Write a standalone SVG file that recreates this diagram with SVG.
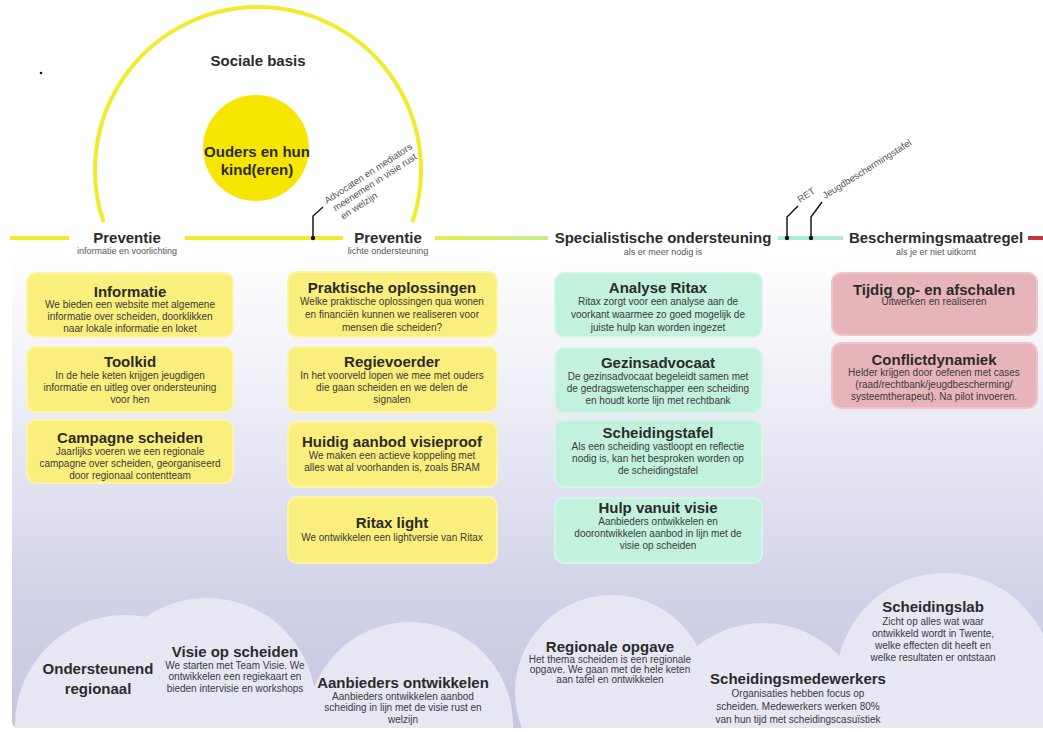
<svg xmlns="http://www.w3.org/2000/svg" width="1043" height="732" viewBox="0 0 1043 732">
<defs>
<linearGradient id="bg" x1="0" y1="250" x2="0" y2="728" gradientUnits="userSpaceOnUse">
<stop offset="0" stop-color="#ffffff"/>
<stop offset="0.25" stop-color="#f1f1f8"/>
<stop offset="0.55" stop-color="#dedeef"/>
<stop offset="0.75" stop-color="#d0d0e6"/>
<stop offset="1" stop-color="#c6c6df"/>
</linearGradient>
<linearGradient id="lg" x1="435" y1="0" x2="548" y2="0" gradientUnits="userSpaceOnUse">
<stop offset="0" stop-color="#e4ee4e"/>
<stop offset="1" stop-color="#c4ee86"/>
</linearGradient>
<clipPath id="panel"><rect x="12" y="250" width="1040" height="478" rx="6"/></clipPath>
</defs>
<style>
text{font-family:"Liberation Sans",Arial,sans-serif;text-anchor:middle}
.t{font-size:15px;font-weight:bold;fill:#2b2b2b}
.b{font-size:10px;fill:#3a3a3a}
.s{font-size:9px;fill:#555}
.c{font-size:9.5px;fill:#555;text-anchor:start}
.y{fill:#faef7c;stroke:#fcf4a8;stroke-width:2}
.g{fill:#c2f1de;stroke:#d2f6e8;stroke-width:2}
.p{fill:#e7b5b9;stroke:#eec6c9;stroke-width:2}
.cl{fill:#e7e7f3}
.ln{stroke-width:4;fill:none}
.ld{stroke:#1a1a1a;stroke-width:1.5;fill:none}
</style>
<rect width="1043" height="732" fill="#ffffff"/>
<rect x="12" y="250" width="1040" height="478" rx="6" fill="url(#bg)"/>
<g id="clouds" clip-path="url(#panel)">
<circle class="cl" cx="125" cy="725" r="110"/>
<circle class="cl" cx="207" cy="707" r="109"/>
<circle class="cl" cx="410" cy="725" r="103"/>
<circle class="cl" cx="612" cy="692" r="97"/>
<circle class="cl" cx="763" cy="728" r="105"/>
<circle class="cl" cx="945" cy="682" r="109"/>
</g>
<circle cx="41" cy="73" r="1.3" fill="#111"/>
<g id="connectors">
<path class="ln" d="M103.5 222 A163 163 0 1 1 412.5 222" stroke="#f2ea2c" stroke-width="3"/>
<line class="ln" x1="10" y1="238" x2="69" y2="238" stroke="#f2ea2c"/>
<line class="ln" x1="185" y1="238" x2="343" y2="238" stroke="#f2ea2c"/>
<line class="ln" x1="435" y1="238" x2="548" y2="238" stroke="url(#lg)"/>
<line class="ln" x1="778" y1="238" x2="843" y2="238" stroke="#a8ecd6"/>
<line class="ln" x1="1028" y1="238" x2="1043" y2="238" stroke="#c8323c"/>
<polyline class="ld" points="313,238 313,216 323,207"/>
<circle cx="313" cy="238" r="2.2" fill="#111"/>
<polyline class="ld" points="787,238 787,217 798,206"/>
<circle cx="787" cy="238" r="2.2" fill="#111"/>
<polyline class="ld" points="811,238 811,217 822,202"/>
<circle cx="811" cy="238" r="2.2" fill="#111"/>
</g>
<g id="callout-advocaten" transform="translate(327,204) rotate(-33)">
<text class="c" x="0" y="0">Advocaten en mediators</text>
<text class="c" x="3" y="11">meenemen in visie rust</text>
<text class="c" x="5" y="22">en welzijn</text>
</g>
<g id="callout-ret" transform="translate(800,203) rotate(-33)"><text class="c" x="0" y="0">RET</text></g>
<g id="callout-jbt" transform="translate(825,199) rotate(-32)"><text class="c" x="0" y="0">Jeugdbeschermingstafel</text></g>
<g id="sociale-basis"><text class="t" x="258" y="66">Sociale basis</text></g>
<g id="ouders">
<circle cx="256" cy="148" r="53" fill="#f7e600"/>
<text class="t" x="257" y="157">Ouders en hun</text>
<text class="t" x="257" y="175">kind(eren)</text>
</g>
<g id="h-preventie1"><text class="t" x="127" y="243">Preventie</text><text class="s" x="127" y="254">informatie en voorlichting</text></g>
<g id="h-preventie2"><text class="t" x="388" y="243">Preventie</text><text class="s" x="388" y="254">lichte ondersteuning</text></g>
<g id="h-specialistisch"><text class="t" x="663" y="243">Specialistische ondersteuning</text><text class="s" x="663" y="255">als er meer nodig is</text></g>
<g id="h-bescherming"><text class="t" x="936" y="243">Beschermingsmaatregel</text><text class="s" x="936" y="255">als je er niet uitkomt</text></g>

<g id="informatie"><rect class="y" x="27" y="273" width="206" height="64" rx="9"/>
<text class="t" x="130" y="297">Informatie</text>
<text class="b" x="130" y="308">We bieden een website met algemene</text>
<text class="b" x="130" y="320">informatie over scheiden, doorklikken</text>
<text class="b" x="130" y="332">naar lokale informatie en loket</text></g>
<g id="toolkid"><rect class="y" x="27" y="347" width="206" height="65" rx="9"/>
<text class="t" x="130" y="367">Toolkid</text>
<text class="b" x="130" y="379">In de hele keten krijgen jeugdigen</text>
<text class="b" x="130" y="391">informatie en uitleg over ondersteuning</text>
<text class="b" x="130" y="403">voor hen</text></g>
<g id="campagne"><rect class="y" x="27" y="420" width="206" height="63" rx="9"/>
<text class="t" x="130" y="443">Campagne scheiden</text>
<text class="b" x="130" y="455">Jaarlijks voeren we een regionale</text>
<text class="b" x="130" y="467">campagne over scheiden, georganiseerd</text>
<text class="b" x="130" y="479">door regionaal contentteam</text></g>

<g id="praktisch"><rect class="y" x="288" y="272" width="209" height="65" rx="9"/>
<text class="t" x="392" y="293">Praktische oplossingen</text>
<text class="b" x="392" y="305">Welke praktische oplossingen qua wonen</text>
<text class="b" x="392" y="318">en financiën kunnen we realiseren voor</text>
<text class="b" x="392" y="331">mensen die scheiden?</text></g>
<g id="regievoerder"><rect class="y" x="288" y="347" width="209" height="65" rx="9"/>
<text class="t" x="392" y="367">Regievoerder</text>
<text class="b" x="392" y="379">In het voorveld lopen we mee met ouders</text>
<text class="b" x="392" y="391">die gaan scheiden en we delen de</text>
<text class="b" x="392" y="403">signalen</text></g>
<g id="huidig"><rect class="y" x="288" y="422" width="209" height="65" rx="9"/>
<text class="t" x="392" y="447">Huidig aanbod visieproof</text>
<text class="b" x="392" y="459">We maken een actieve koppeling met</text>
<text class="b" x="392" y="471">alles wat al voorhanden is, zoals BRAM</text></g>
<g id="ritax-light"><rect class="y" x="288" y="497" width="209" height="66" rx="9"/>
<text class="t" x="392" y="528">Ritax light</text>
<text class="b" x="392" y="541">We ontwikkelen een lightversie van Ritax</text></g>

<g id="analyse-ritax"><rect class="g" x="555" y="273" width="207" height="64" rx="9"/>
<text class="t" x="658" y="293">Analyse Ritax</text>
<text class="b" x="658" y="305">Ritax zorgt voor een analyse aan de</text>
<text class="b" x="658" y="318">voorkant waarmee zo goed mogelijk de</text>
<text class="b" x="658" y="331">juiste hulp kan worden ingezet</text></g>
<g id="gezinsadvocaat"><rect class="g" x="555" y="348" width="207" height="65" rx="9"/>
<text class="t" x="658" y="368">Gezinsadvocaat</text>
<text class="b" x="658" y="380">De gezinsadvocaat begeleidt samen met</text>
<text class="b" x="658" y="392">de gedragswetenschapper een scheiding</text>
<text class="b" x="658" y="404">en houdt korte lijn met rechtbank</text></g>
<g id="scheidingstafel"><rect class="g" x="555" y="420" width="207" height="67" rx="9"/>
<text class="t" x="658" y="438">Scheidingstafel</text>
<text class="b" x="658" y="450">Als een scheiding vastloopt en reflectie</text>
<text class="b" x="658" y="462">nodig is, kan het besproken worden op</text>
<text class="b" x="658" y="474">de scheidingstafel</text></g>
<g id="hulp-visie"><rect class="g" x="555" y="498" width="207" height="65" rx="9"/>
<text class="t" x="658" y="513">Hulp vanuit visie</text>
<text class="b" x="658" y="525">Aanbieders ontwikkelen en</text>
<text class="b" x="658" y="537">doorontwikkelen aanbod in lijn met  de</text>
<text class="b" x="658" y="549">visie op scheiden</text></g>

<g id="tijdig"><rect class="p" x="832" y="273" width="205" height="62" rx="9"/>
<text class="t" x="934" y="295">Tijdig op- en afschalen</text>
<text class="b" x="934" y="305">Uitwerken en realiseren</text></g>
<g id="conflictdynamiek"><rect class="p" x="832" y="343" width="205" height="65" rx="9"/>
<text class="t" x="934" y="365">Conflictdynamiek</text>
<text class="b" x="934" y="376">Helder krijgen door oefenen met cases</text>
<text class="b" x="934" y="388">(raad/rechtbank/jeugdbescherming/</text>
<text class="b" x="934" y="400">systeemtherapeut). Na pilot invoeren.</text></g>

<g id="ondersteunend"><text class="t" x="98" y="674">Ondersteunend</text><text class="t" x="98" y="694">regionaal</text></g>
<g id="visie-scheiden"><text class="t" x="235" y="657">Visie op scheiden</text>
<text class="b" x="235" y="669">We starten met Team Visie. We</text>
<text class="b" x="235" y="680">ontwikkelen een regiekaart en</text>
<text class="b" x="235" y="692">bieden intervisie en workshops</text></g>
<g id="aanbieders"><text class="t" x="403" y="688">Aanbieders ontwikkelen</text>
<text class="b" x="403" y="700">Aanbieders ontwikkelen aanbod</text>
<text class="b" x="403" y="711">scheiding in lijn met de visie rust en</text>
<text class="b" x="403" y="723">welzijn</text></g>
<g id="regionale-opgave"><text class="t" x="610" y="652">Regionale opgave</text>
<text class="b" x="610" y="663">Het thema scheiden is een regionale</text>
<text class="b" x="610" y="673">opgave. We gaan met de hele keten</text>
<text class="b" x="610" y="683">aan tafel en ontwikkelen</text></g>
<g id="scheidingsmedewerkers"><text class="t" x="798" y="684">Scheidingsmedewerkers</text>
<text class="b" x="798" y="697">Organisaties hebben focus op</text>
<text class="b" x="798" y="710">scheiden. Medewerkers werken 80%</text>
<text class="b" x="798" y="723">van hun tijd met scheidingscasuïstiek</text></g>
<g id="scheidingslab"><text class="t" x="933" y="612">Scheidingslab</text>
<text class="b" x="933" y="625">Zicht op alles wat waar</text>
<text class="b" x="933" y="637">ontwikkeld wordt in Twente,</text>
<text class="b" x="933" y="649">welke effecten dit heeft en</text>
<text class="b" x="933" y="661">welke resultaten er ontstaan</text></g>
</svg>
